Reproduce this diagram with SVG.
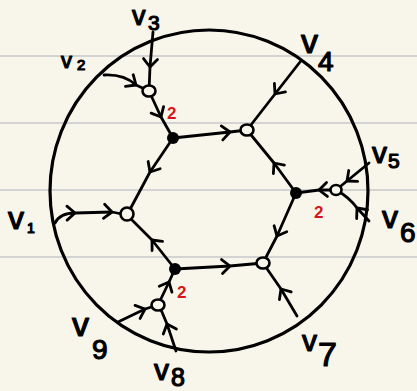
<svg xmlns="http://www.w3.org/2000/svg" width="417" height="391" viewBox="0 0 417 391">
<defs>
<style>
.bg{fill:#f8f6ea}
.rule{stroke:#d3d3d3;stroke-width:2}
.ring{fill:none;stroke:#000;stroke-width:3.2}
.edge{fill:none;stroke:#000;stroke-width:2.8;stroke-linecap:round;stroke-linejoin:round;marker-mid:url(#arr)}
.open{fill:#f8f6ea;stroke:#000;stroke-width:2.6}
.dot{fill:#000}
.lbl{font-family:"Liberation Sans","DejaVu Sans",sans-serif;fill:#000;stroke:#000;stroke-width:1.2;stroke-linejoin:round}
.red{font-family:"Liberation Sans","DejaVu Sans",sans-serif;font-weight:bold;font-size:17px;fill:#d4161a}
</style>
<marker id="arr" markerUnits="userSpaceOnUse" viewBox="-12 -10 20 20" markerWidth="20" markerHeight="20" refX="0" refY="0" orient="auto" overflow="visible">
<path d="M-8,-7 L0,0 L-8,7" fill="none" stroke="#000" stroke-width="2.8" stroke-linecap="round" stroke-linejoin="round"/>
</marker>
</defs>
<rect class="bg" x="0" y="0" width="417" height="391"/>
<g id="rules">
<line class="rule" x1="0" y1="56" x2="417" y2="56"/>
<line class="rule" x1="0" y1="123" x2="417" y2="123"/>
<line class="rule" x1="0" y1="190" x2="417" y2="190"/>
<line class="rule" x1="0" y1="257" x2="417" y2="257"/>
</g>
<ellipse id="boundary" class="ring" cx="209" cy="191" rx="159" ry="161"/>
<g id="connectors">
<path class="edge" d="M153,32 L150,67 L149,91"/>
<path class="edge" d="M104,75 Q124,74 136,85 L149,91"/>
<path class="edge" d="M149,91 L161,117 L173,138"/>
<path class="edge" d="M173,138 L230,132 L247,130"/>
<path class="edge" d="M300,62 L275,94 L247,130"/>
<path class="edge" d="M296,193 L274,163 L247,130"/>
<path class="edge" d="M369,163 L347,181 L336,190"/>
<path class="edge" d="M369,221 L357,208 Q349,197 336,190"/>
<path class="edge" d="M336,190 L319,190 L296,193"/>
<path class="edge" d="M296,193 L277,236 L263,263"/>
<path class="edge" d="M297,316 L281,289 L263,263"/>
<path class="edge" d="M175,269 L230,266 L263,263"/>
<path class="edge" d="M175,269 L152,240 L127,215"/>
<path class="edge" d="M173,138 L150,172 L127,215"/>
<path class="edge" d="M55,223 Q60,213 75,213 L112,212 L127,215"/>
<path class="edge" d="M158,305 L169,282 L175,269"/>
<path class="edge" d="M118,322 L145,309 L158,305"/>
<path class="edge" d="M176,351 L167,324 L159,305"/>
</g>
<g id="n3"><ellipse class="open" cx="149" cy="91" rx="6.5" ry="5.5"/></g>
<g id="nA"><circle class="dot" cx="173" cy="138" r="6"/><text class="red" x="167" y="119">2</text></g>
<g id="nB"><ellipse class="open" cx="247" cy="130" rx="6.5" ry="5.5"/></g>
<g id="nC"><circle class="dot" cx="296" cy="193" r="6"/><text class="red" x="314" y="218">2</text></g>
<g id="nD"><ellipse class="open" cx="336" cy="190" rx="5.5" ry="5"/></g>
<g id="nE"><ellipse class="open" cx="263" cy="263" rx="6.5" ry="5.5"/></g>
<g id="nF"><circle class="dot" cx="175" cy="269" r="6"/><text class="red" x="177" y="298">2</text></g>
<g id="nG"><ellipse class="open" cx="127" cy="214" rx="6.5" ry="6.5"/></g>
<g id="nH"><ellipse class="open" cx="158" cy="305" rx="6.5" ry="5.5"/></g>
<g id="v1"><text class="lbl"><tspan x="8" y="229" font-size="32">v</tspan><tspan x="27" y="233" font-size="14">1</tspan></text></g>
<g id="v2"><text class="lbl"><tspan x="61" y="68" font-size="22">v</tspan><tspan x="77" y="70" font-size="15">2</tspan></text></g>
<g id="v3"><text class="lbl"><tspan x="132" y="25" font-size="27">v</tspan><tspan x="148" y="30" font-size="21">3</tspan></text></g>
<g id="v4"><text class="lbl"><tspan x="301" y="53" font-size="34">v</tspan><tspan x="318" y="71" font-size="28">4</tspan></text></g>
<g id="v5"><text class="lbl"><tspan x="372" y="163" font-size="30">v</tspan><tspan x="388" y="168" font-size="21">5</tspan></text></g>
<g id="v6"><text class="lbl"><tspan x="382" y="228" font-size="32">v</tspan><tspan x="400" y="242" font-size="28">6</tspan></text></g>
<g id="v7"><text class="lbl"><tspan x="302" y="351" font-size="30">v</tspan><tspan x="318" y="366" font-size="34">7</tspan></text></g>
<g id="v8"><text class="lbl"><tspan x="154" y="380" font-size="30">v</tspan><tspan x="171" y="386" font-size="25">8</tspan></text></g>
<g id="v9"><text class="lbl"><tspan x="72" y="336" font-size="34">v</tspan><tspan x="92" y="359" font-size="28">9</tspan></text></g>
</svg>
